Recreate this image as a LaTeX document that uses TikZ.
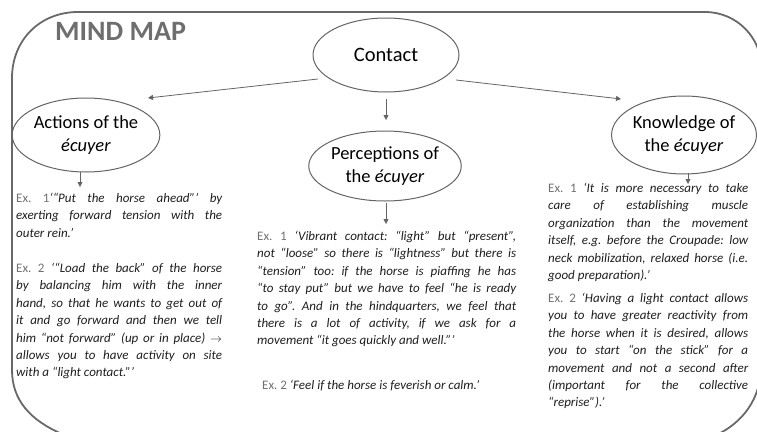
\documentclass[tikz,border=0pt]{standalone}
\usepackage{fontspec}
\setmainfont{Carlito}
\usetikzlibrary{arrows.meta,shapes.geometric}
\definecolor{framegray}{RGB}{105,105,105}
\definecolor{titlegray}{RGB}{110,110,110}
\definecolor{ellgray}{RGB}{100,100,100}
\definecolor{exgray}{RGB}{112,112,112}
\definecolor{bodyblack}{RGB}{30,30,30}
\newcommand\exlab[1]{{\upshape\color{exgray}#1}}
\begin{document}
\frenchspacing
\hyphenpenalty=10000
\tolerance=10000
\begin{tikzpicture}[x=1pt,y=-1pt,
  frameline/.style={draw=framegray,line width=1.8pt},
  bubble/.style={ellipse,draw=ellgray,line width=1pt,inner sep=0pt,align=center,
    font=\fontsize{18.5}{23}\selectfont,text=black},
  arr/.style={draw=ellgray,line width=0.8pt,-{Triangle[length=5pt,width=5pt]}},
  txt/.style={anchor=north west,inner sep=0pt,align=justify,text=bodyblack,
    font=\fontsize{13}{17.4}\selectfont\itshape}]
\useasboundingbox (0,0) rectangle (757,431);
% frame
\draw[frameline] (62,434) .. controls (30,420) and (12,400) .. (12,370)
  -- (12,78) .. controls (12,40) and (40,12) .. (78,12)
  -- (705,12) .. controls (737,12) and (761,38) .. (761,66)
  -- (761,372) .. controls (758,405) and (738,426) .. (712,437);
% title
\node[anchor=west,inner sep=0pt,font=\fontsize{28}{30}\selectfont\bfseries,text=titlegray] (title) at (55,31) {MIND MAP};
% ellipses
\node[bubble,minimum width=146pt,minimum height=74pt,font=\fontsize{20.5}{24}\selectfont] (contact) at (386,55) {Contact};
\node[bubble,minimum width=146pt,minimum height=74pt] (actions) at (86,135) {Actions of the\\\textit{écuyer}};
\node[bubble,minimum width=146pt,minimum height=70pt] (percep) at (385,166) {Perceptions of\\the \textit{écuyer}};
\node[bubble,minimum width=142pt,minimum height=78pt] (know) at (684,135) {Knowledge of\\the \textit{écuyer}};
% texts
\node[txt,text width=206pt] (l1) at (16,193) {\exlab{Ex. 1}‘“Put the horse ahead”’ by\linebreak exerting forward tension with the\linebreak outer rein.’};
\node[txt,text width=206pt] (l2) at (16,263) {\exlab{Ex. 2} ‘“Load the back” of the horse\linebreak by balancing him with the inner\linebreak hand, so that he wants to get out of\linebreak it and go forward and then we tell\linebreak him “not forward” (up or in place) {\upshape$\rightarrow$}\linebreak allows you to have activity on site\linebreak with a “light contact.”’};
\node[txt,text width=259pt] (m1) at (257,231) {\exlab{Ex. 1} ‘Vibrant contact: “light” but “present”,\linebreak not “loose” so there is “lightness” but there is\linebreak “tension” too: if the horse is piaffing he has\linebreak “to stay put” but we have to feel “he is ready\linebreak to go”. And in the hindquarters, we feel that\linebreak there is a lot of activity, if we ask for a\linebreak movement “it goes quickly and well.”’};
\node[txt,text width=259pt] (m2) at (262,380) {\exlab{Ex. 2} ‘Feel if the horse is feverish or calm.’};
\node[txt,text width=200pt] (r1) at (548,183) {\exlab{Ex. 1} ‘It is more necessary to take\linebreak care of establishing muscle\linebreak organization than the movement\linebreak itself, e.g. before the Croupade: low\linebreak neck mobilization, relaxed horse (i.e.\linebreak good preparation).’};
\node[txt,text width=200pt] (r2) at (548,293) {\exlab{Ex. 2} ‘Having a light contact allows\linebreak you to have greater reactivity from\linebreak the horse when it is desired, allows\linebreak you to start “on the stick” for a\linebreak movement and not a second after\linebreak (important for the collective\linebreak “reprise”).’};
% arrow ends
\coordinate (ca1) at (318,79);
\coordinate (ca2) at (148,98);
\coordinate (ck1) at (456,80);
\coordinate (ck2) at (621,99);
\coordinate (cp1) at (386,99);
\coordinate (cp2) at (386,120);
\coordinate (at1) at (80,172);
\coordinate (at2) at (80,187);
\coordinate (pt1) at (386,203);
\coordinate (pt2) at (386,224);
\coordinate (kt1) at (688,173);
\coordinate (kt2) at (688,184);
\draw[arr] (ca1) -- (ca2);
\draw[arr] (ck1) -- (ck2);
\draw[arr] (cp1) -- (cp2);
\draw[arr] (at1) -- (at2);
\draw[arr] (pt1) -- (pt2);
\draw[arr] (kt1) -- (kt2);
\end{tikzpicture}
\end{document}
